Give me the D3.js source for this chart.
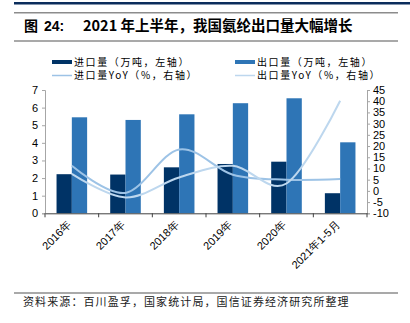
<!DOCTYPE html>
<html><head><meta charset="utf-8">
<script src="https://cdn.jsdelivr.net/npm/d3@7"></script>
<style>
body{margin:0;background:#fff;}
svg{display:block;font-family:"Liberation Sans",Arial,sans-serif;}
.cjk{font-family:"Noto Sans CJK SC","Noto Sans",sans-serif;}
</style></head>
<body>
<svg id="c" width="410" height="323"></svg>
<script>
const categories = ["2016年","2017年","2018年","2019年","2020年","2021年1-5月"];
const importVol = [2.22, 2.2, 2.61, 2.8, 2.93, 1.14];
const exportVol = [5.45, 5.3, 5.62, 6.25, 6.53, 4.03];
const importYoY = [11.2, -0.9, 18.5, 7.2, 5.0, 5.3];
const exportYoY = [7.6, -2.9, 6.0, 11.2, 3.3, 40.2];
const leftTicks = [0,1,2,3,4,5,6,7];
const rightTicks = [-10,-5,0,5,10,15,20,25,30,35,40,45];
const seriesNames = ["进口量（万吨，左轴）","出口量（万吨，左轴）","进口量YoY（%，右轴）","出口量YoY（%，右轴）"];
const title1 = "图";
const title1b = "24:";
const title2 = "2021 年上半年，我国氨纶出口量大幅增长";
const source = "资料来源：百川盈孚，国家统计局，国信证券经济研究所整理";

const cDark = "#003366", cLight = "#2E75B6", cImpL = "#9DC3E6", cExpL = "#BDD7EE";

const svg = d3.select("#c");
// frame lines
svg.append("rect").attr("x",14).attr("y",2).attr("width",396).attr("height",2.5).attr("fill","#0b2d5c");
svg.append("rect").attr("x",14).attr("y",12).attr("width",384).attr("height",1.5).attr("fill","#8c8c8c");
svg.append("rect").attr("x",14).attr("y",40.5).attr("width",384).attr("height",1).attr("fill","#555");
svg.append("rect").attr("x",14).attr("y",292.5).attr("width",384).attr("height",1).attr("fill","#555");

svg.append("text").attr("class","cjk").attr("x",24).attr("y",31).attr("font-size",14).attr("font-weight","bold").attr("fill","#000").text(title1);
svg.append("text").attr("x",44).attr("y",31).attr("font-size",14).attr("font-weight","bold").attr("fill","#000").text(title1b);
svg.append("text").attr("class","cjk").attr("x",83).attr("y",31).attr("font-size",14.5).attr("font-weight","bold").attr("fill","#000").text(title2);
svg.append("text").attr("class","cjk").attr("x",23).attr("y",306).attr("font-size",11).attr("letter-spacing",1.1).attr("fill","#222").text(source);

const x = d3.scaleBand().domain(categories).range([45,367]);
const yL = d3.scaleLinear().domain([0,7]).range([213.3,90]);
const yR = d3.scaleLinear().domain([-10,45]).range([213.3,90]);
const bw = x.bandwidth()*0.285;

const g = svg.append("g");
// bars
g.selectAll(".bi").data(importVol).join("rect")
 .attr("x",(d,i)=>x(categories[i])+x.bandwidth()/2-bw).attr("y",d=>yL(d))
 .attr("width",bw).attr("height",d=>yL(0)-yL(d)).attr("fill",cDark);
g.selectAll(".be").data(exportVol).join("rect")
 .attr("x",(d,i)=>x(categories[i])+x.bandwidth()/2).attr("y",d=>yL(d))
 .attr("width",bw).attr("height",d=>yL(0)-yL(d)).attr("fill",cLight);

// lines
const line = d3.line().x((d,i)=>x(categories[i])+x.bandwidth()/2).y(d=>yR(d)).curve(d3.curveCardinal.tension(0));
g.append("path").attr("d",line(importYoY)).attr("fill","none").attr("stroke",cImpL).attr("stroke-width",2);
g.append("path").attr("d",line(exportYoY)).attr("fill","none").attr("stroke",cExpL).attr("stroke-width",2);

// axes
const axL = d3.axisLeft(yL).tickValues(leftTicks).tickSize(3).tickPadding(4).tickFormat(d=>String(d));
const gl = svg.append("g").attr("transform","translate(45,0)").call(axL);
const axR = d3.axisRight(yR).tickValues(rightTicks).tickSize(3).tickPadding(3).tickFormat(d=>String(d));
const gr = svg.append("g").attr("transform","translate(367,0)").call(axR);
[gl,gr].forEach(a=>{
  a.select(".domain").attr("stroke","#a6a6a6");
  a.selectAll(".tick line").attr("stroke","#a6a6a6");
  a.selectAll("text").attr("font-size",11).attr("fill","#000").attr("font-family","Liberation Sans, Arial, sans-serif");
});
const axB = d3.axisBottom(x).tickSize(0).tickFormat(d=>d);
const gb = svg.append("g").attr("transform","translate(0,213.3)").call(axB);
gb.select(".domain").attr("stroke","#404040");
gb.selectAll("text").attr("font-size",11).attr("fill","#000").attr("font-family","Liberation Sans, Arial, sans-serif")
  .attr("text-anchor","end").attr("dy","0").attr("transform","translate(-2,10) rotate(-45)");
// boundary ticks
const bounds = categories.map(c=>x(c)).concat([x.range()[1]]);
gb.selectAll(".bt").data(bounds).join("line").attr("x1",d=>d).attr("x2",d=>d).attr("y1",0).attr("y2",4).attr("stroke","#404040");

// legend
const leg = svg.append("g");
const items = [
 {n:seriesNames[0],c:cDark,t:"bar",x:52,y:62},
 {n:seriesNames[1],c:cLight,t:"bar",x:235,y:62},
 {n:seriesNames[2],c:cImpL,t:"line",x:52,y:75.5},
 {n:seriesNames[3],c:cExpL,t:"line",x:235,y:75.5}];
items.forEach(it=>{
  if(it.t==="bar") leg.append("rect").attr("x",it.x).attr("y",it.y-2).attr("width",20).attr("height",4).attr("fill",it.c);
  else leg.append("line").attr("x1",it.x).attr("x2",it.x+20).attr("y1",it.y).attr("y2",it.y).attr("stroke",it.c).attr("stroke-width",1.5);
  leg.append("text").attr("class","cjk").attr("x",it.x+22).attr("y",it.y+3.5).attr("font-size",10).attr("letter-spacing",1.6).attr("fill","#000").text(it.n);
});
</script>
</body></html>
